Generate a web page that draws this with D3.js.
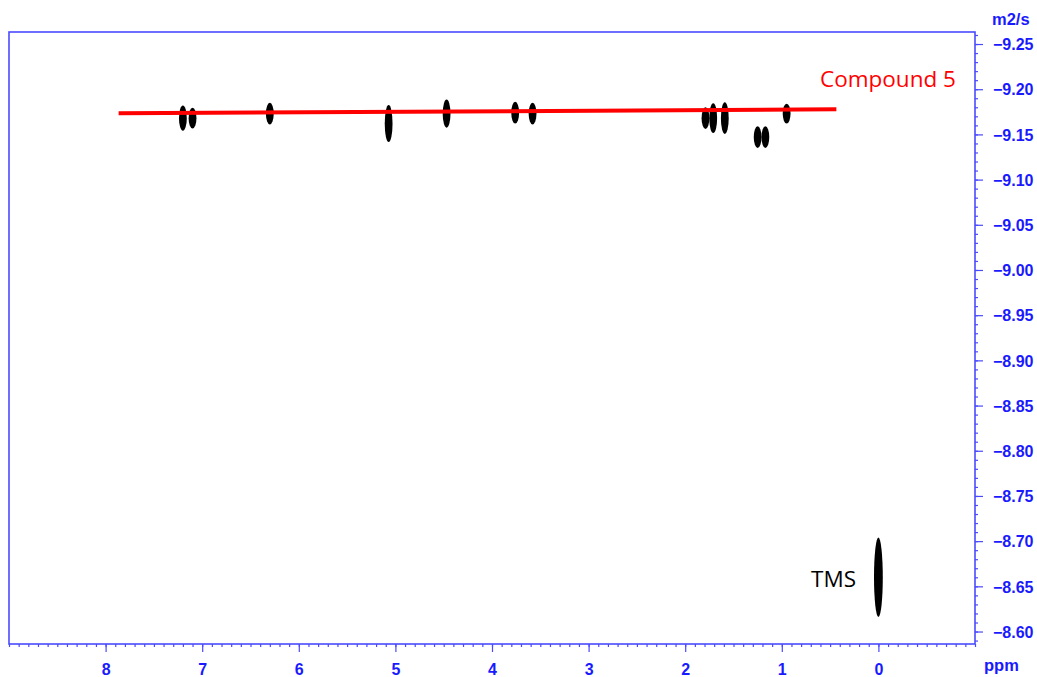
<!DOCTYPE html>
<html lang="en">
<head>
    <meta charset="UTF-8">
    <title>DOSY - Compound 5</title>
    <script src="https://d3js.org/d3.v7.min.js"></script>
    <style>
        body { margin: 0; background: #fff; }
        .tick text {
            font-family: "Liberation Sans", Arial, sans-serif;
            font-weight: bold;
            font-size: 16px;
            fill: #1a1aff;
        }
        .tick line { stroke: #4a4aff; stroke-width: 1.2px; }
        .unit {
            font-family: "Liberation Sans", Arial, sans-serif;
            font-weight: bold;
            font-size: 16.5px;
            fill: #1a1aff;
        }
        .note {
            font-family: "Open Sans", sans-serif;
            font-size: 22.5px;
        }
    </style>
</head>
<body>
    <svg width="1037" height="677"></svg>
    <script>
    // chemical shift ticks (ppm) and diffusion ticks (log D, m2/s)
    const xTicks = [8, 7, 6, 5, 4, 3, 2, 1, 0];
    const yTicks = [-9.25, -9.20, -9.15, -9.10, -9.05, -9.00, -8.95, -8.90,
                    -8.85, -8.80, -8.75, -8.70, -8.65, -8.60];

    // cross peaks of compound 5
    const peakPpm  = [7.20, 7.10, 6.30, 5.07, 4.47, 3.76, 3.58, 1.79, 1.71, 1.59, 1.25, 1.17, 0.95];
    const peakD    = [-9.168, -9.168, -9.173, -9.162, -9.173, -9.174, -9.173, -9.168, -9.168, -9.168, -9.147, -9.147, -9.173];
    const peakSpan = [0.028, 0.023, 0.024, 0.041, 0.031, 0.024, 0.024, 0.024, 0.033, 0.035, 0.024, 0.024, 0.022];

    // reference signal
    const tmsPpm = [0.00];
    const tmsD = [-8.660];
    const tmsSpan = [0.088];

    // fitted line for compound 5
    const fitPpm = [7.865, 0.435];
    const fitD = [-9.1733, -9.1777];

    const svg = d3.select("svg");
    const mLeft = 9, mRight = 975, mTop = 32, mBottom = 644;

    const x = d3.scaleLinear().domain([9, -1]).range([mLeft, mRight]);
    const y = d3.scaleLinear().domain([-9.2633, -8.5862]).range([mTop, mBottom]);

    // minor ticks
    const xMinor = d3.range(90, -11, -1).map(d => d / 10);
    const yMinor = d3.range(-926, -858).map(d => d / 100);

    svg.append("g")
        .attr("transform", `translate(0,${mBottom})`)
        .call(d3.axisBottom(x).tickValues(xMinor).tickSize(3).tickFormat(""))
        .call(g => g.select(".domain").remove());
    svg.append("g")
        .attr("transform", `translate(0,${mBottom})`)
        .call(d3.axisBottom(x).tickValues(xTicks).tickSize(8).tickPadding(12).tickFormat(d3.format("d")))
        .call(g => g.select(".domain").remove());

    svg.append("g")
        .attr("transform", `translate(${mRight},0)`)
        .call(d3.axisRight(y).tickValues(yMinor).tickSize(3).tickFormat(""))
        .call(g => g.select(".domain").remove());
    svg.append("g")
        .attr("transform", `translate(${mRight},0)`)
        .call(d3.axisRight(y).tickValues(yTicks).tickSize(8).tickPadding(10).tickFormat(d3.format(".2f")))
        .call(g => g.select(".domain").remove())
        .selectAll("text").attr("dy", "0.36em");

    // frame
    svg.append("rect")
        .attr("x", mLeft).attr("y", mTop)
        .attr("width", mRight - mLeft).attr("height", mBottom - mTop)
        .attr("fill", "none")
        .attr("stroke", "#4a4aff")
        .attr("stroke-width", 1.6);

    svg.append("text").attr("class", "unit").attr("x", 992).attr("y", 25).text("m2/s");
    svg.append("text").attr("class", "unit").attr("x", 984).attr("y", 671).text("ppm");

    // peaks
    const peaks = peakPpm.map((p, i) => ({ppm: p, d: peakD[i], span: peakSpan[i]}));
    svg.append("g")
        .selectAll("ellipse")
        .data(peaks)
        .enter().append("ellipse")
        .attr("cx", d => x(d.ppm))
        .attr("cy", d => y(d.d))
        .attr("rx", 3.9)
        .attr("ry", d => (y(d.d + d.span / 2) - y(d.d - d.span / 2)) / 2)
        .attr("fill", "#000");

    const tms = tmsPpm.map((p, i) => ({ppm: p, d: tmsD[i], span: tmsSpan[i]}));
    svg.append("g")
        .selectAll("ellipse")
        .data(tms)
        .enter().append("ellipse")
        .attr("cx", d => x(d.ppm))
        .attr("cy", d => y(d.d))
        .attr("rx", 4.4)
        .attr("ry", d => (y(d.d + d.span / 2) - y(d.d - d.span / 2)) / 2)
        .attr("fill", "#000");

    // fit line
    const line = d3.line().x(d => x(d[0])).y(d => y(d[1]));
    svg.append("path")
        .datum(fitPpm.map((p, i) => [p, fitD[i]]))
        .attr("d", line)
        .attr("fill", "none")
        .attr("stroke", "#ff0000")
        .attr("stroke-width", 4);

    svg.append("text").attr("class", "note").attr("x", 820).attr("y", 87)
        .attr("fill", "#ff0000").text("Compound 5");
    svg.append("text").attr("class", "note").attr("x", 811).attr("y", 587)
        .attr("fill", "#000").text("TMS");
    </script>
</body>
</html>
